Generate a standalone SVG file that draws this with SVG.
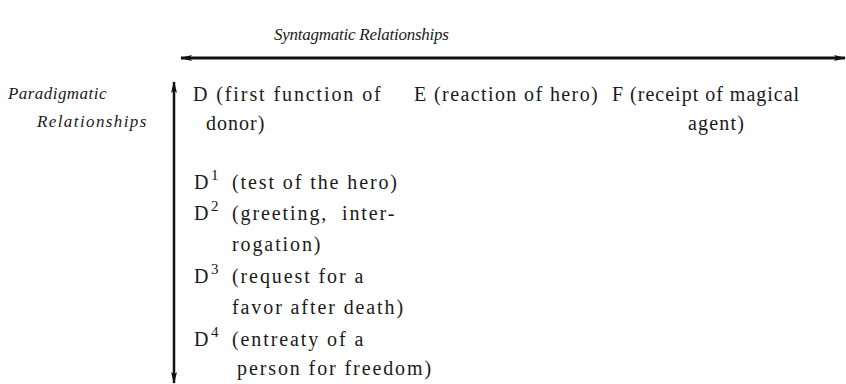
<svg xmlns="http://www.w3.org/2000/svg" width="846" height="384" viewBox="0 0 846 384">
<style>
text{font-family:"Liberation Serif","Times New Roman",serif;fill:#1a1a1a}
.r{font-size:20px;letter-spacing:1.9px}
.i{font-size:17px;font-style:italic}
.s{font-size:15px}
.ax{stroke:#111;fill:none}
</style>
<defs>
<marker id="ah" viewBox="0 0 12 6" refX="11" refY="3" markerWidth="12" markerHeight="6" markerUnits="userSpaceOnUse" orient="auto-start-reverse">
<path d="M0,0 L12,3 L0,6 L2.5,3 Z" fill="#111"/>
</marker>
</defs>
<rect width="846" height="384" fill="#fff"/>
<g id="connectors">
<line class="ax" x1="181" y1="58" x2="845" y2="58" stroke-width="3" marker-start="url(#ah)" marker-end="url(#ah)"/>
<line class="ax" x1="174" y1="82" x2="174" y2="383" stroke-width="2.5" marker-start="url(#ah)" marker-end="url(#ah)"/>
</g>
<g id="syntagmatic-label"><text class="i" x="274" y="40" style="letter-spacing:-0.25px">Syntagmatic Relationships</text></g>
<g id="paradigmatic-label">
<text class="i" x="8" y="99" style="letter-spacing:0.45px">Paradigmatic</text>
<text class="i" x="37" y="127" style="letter-spacing:1.4px">Relationships</text>
</g>
<g id="node-D">
<text class="r" x="193" y="101">D (first function of</text>
<text class="r" x="206" y="130" style="letter-spacing:1px">donor)</text>
</g>
<g id="node-E"><text class="r" x="414" y="101" style="letter-spacing:1.4px">E (reaction of hero)</text></g>
<g id="node-F">
<text class="r" x="612" y="101" style="letter-spacing:1px">F (receipt of magical</text>
<text class="r" x="688" y="130" style="letter-spacing:1.2px">agent)</text>
</g>
<g id="node-D1">
<text class="r" x="194" y="189">D</text><text class="s" x="211" y="180">1</text>
<text class="r" x="232" y="189">(test of the hero)</text>
</g>
<g id="node-D2">
<text class="r" x="194" y="220">D</text><text class="s" x="211" y="211">2</text>
<text class="r" x="232" y="220" xml:space="preserve">(greeting,  inter-</text>
<text class="r" x="232" y="251">rogation)</text>
</g>
<g id="node-D3">
<text class="r" x="194" y="283">D</text><text class="s" x="211" y="274">3</text>
<text class="r" x="232" y="283">(request for a</text>
<text class="r" x="232" y="314">favor after death)</text>
</g>
<g id="node-D4">
<text class="r" x="194" y="346">D</text><text class="s" x="211" y="337">4</text>
<text class="r" x="232" y="346">(entreaty of a</text>
<text class="r" x="237" y="375">person for freedom)</text>
</g>
</svg>
